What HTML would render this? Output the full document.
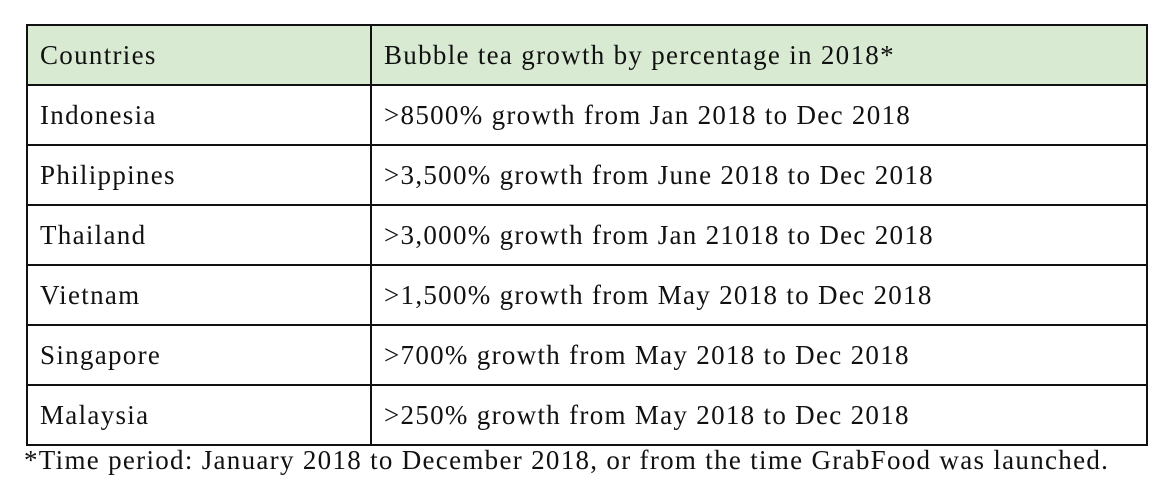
<!DOCTYPE html>
<html><head><meta charset="utf-8"><style>
html,body{margin:0;padding:0;background:#fff;width:1170px;height:496px;overflow:hidden}
body{font-family:"Liberation Serif","DejaVu Serif",serif;color:#111}
table{position:absolute;left:26px;top:24px;border-collapse:collapse;width:1122px}
td{border:2px solid #111;height:58px;padding:0 0 0 12px;font-size:27px;letter-spacing:1.3px;vertical-align:middle}
td.c1{width:330px}
tr.head td{background:#d9ead3}
.note{position:absolute;left:24px;top:445px;font-size:27px;letter-spacing:1.3px;white-space:nowrap}
</style></head><body>
<table>
<tr class="head"><td class="c1">Countries</td><td>Bubble tea growth by percentage in 2018*</td></tr>
<tr><td class="c1">Indonesia</td><td>&gt;8500% growth from Jan 2018 to Dec 2018</td></tr>
<tr><td class="c1">Philippines</td><td>&gt;3,500% growth from June 2018 to Dec 2018</td></tr>
<tr><td class="c1">Thailand</td><td>&gt;3,000% growth from Jan 21018 to Dec 2018</td></tr>
<tr><td class="c1">Vietnam</td><td>&gt;1,500% growth from May 2018 to Dec 2018</td></tr>
<tr><td class="c1">Singapore</td><td>&gt;700% growth from May 2018 to Dec 2018</td></tr>
<tr><td class="c1">Malaysia</td><td>&gt;250% growth from May 2018 to Dec 2018</td></tr>
</table>
<div class="note">*Time period: January 2018 to December 2018, or from the time GrabFood was launched.</div>
</body></html>
